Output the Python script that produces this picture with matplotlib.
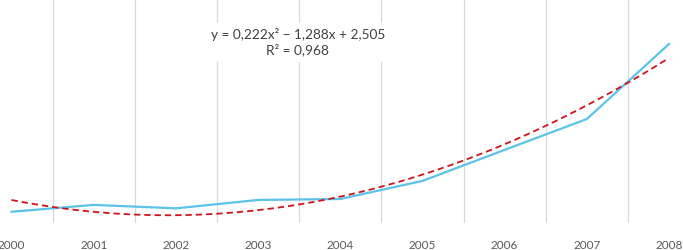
import numpy as np
import matplotlib.pyplot as plt

years = [2000, 2001, 2002, 2003, 2004, 2005, 2006, 2007, 2008]
values = [0.82, 1.18, 1.00, 1.44, 1.49, 2.44, 4.07, 5.69, 9.63]
trend_coefs = [0.222, -1.288, 2.505]  # y = a*x^2 + b*x + c, x = 1..9
r2 = 0.968

plt.rcParams['font.family'] = ['Lato', 'DejaVu Sans']

fig = plt.figure(figsize=(6.83, 2.5), dpi=100)
ax = fig.add_axes([0, 0.108, 1, 0.892])

ax.plot(years, values, color='#5BC3E8', lw=1.6, zorder=3)

xs = np.linspace(1, len(years), 200)
ax.plot(xs + years[0] - 1, np.polyval(trend_coefs, xs), color='#D0131B',
        lw=1.3, ls=(0, (3.5, 2.2)), zorder=4)

# vertical gridlines between categories
for y in years[:-1]:
    ax.axvline(y + 0.5, color='#D9D9D9', lw=0.9, zorder=1)

ax.set_xlim(1999.86, 2008.17)
ax.set_ylim(0.23, 11.94)
ax.set_xticks(years)
ax.set_xticklabels([str(y) for y in years])
ax.set_yticks([])
ax.tick_params(axis='x', length=0, pad=12, labelsize=8.5, labelcolor='#595959')
for s in ax.spines.values():
    s.set_visible(False)

eq = 'y = {:.3f}x² − {:.3f}x + {:.3f}'.format(
    trend_coefs[0], -trend_coefs[1], trend_coefs[2]).replace('.', ',')
r2_txt = 'R² = {:.3f}'.format(r2).replace('.', ',')
ax.text(0.436, 0.81, eq + '\n' + r2_txt, transform=ax.transAxes,
        ha='center', va='center', fontsize=9.8, color='#404040',
        linespacing=1.25, zorder=5,
        bbox=dict(facecolor='white', edgecolor='none', pad=4))

fig.savefig('out.png', dpi=100)
